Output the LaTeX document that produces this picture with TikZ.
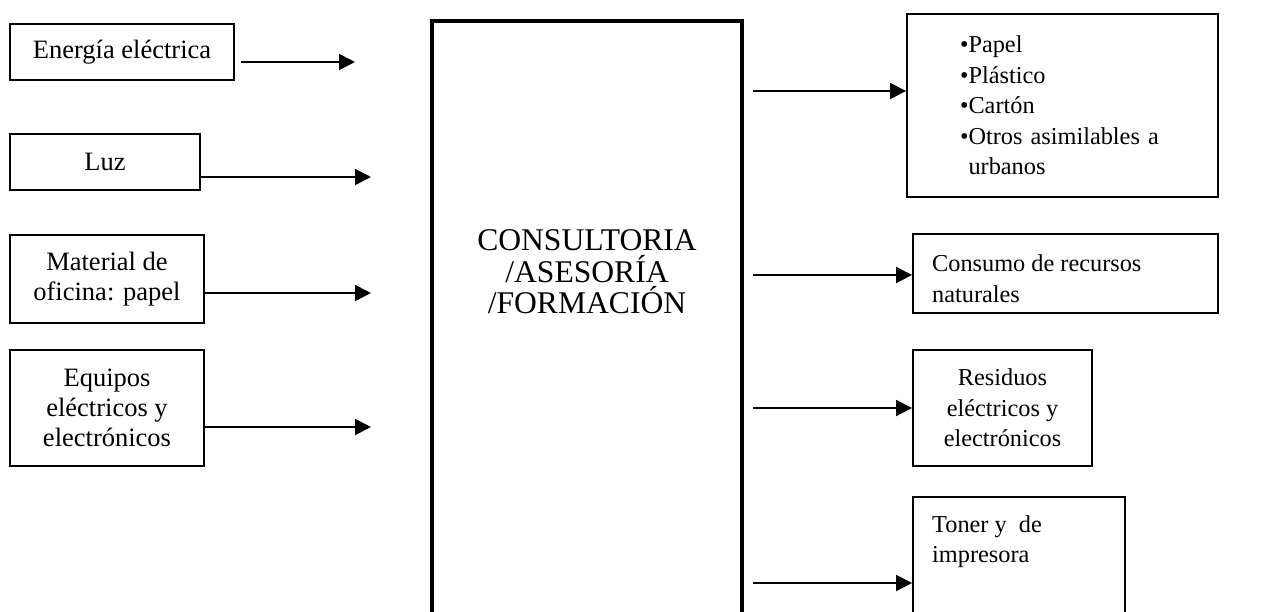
\documentclass[tikz,border=0pt]{standalone}
\usepackage{fontspec}
\setmainfont{Liberation Serif}
\usetikzlibrary{arrows.meta}
\newcommand{\inputsize}{\fontsize{26.5}{30}\selectfont}
\newcommand{\outputsize}{\fontsize{24.3}{30.5}\selectfont}
\newcommand{\processsize}{\fontsize{31.6}{31.5}\selectfont}

\begin{document}
\begin{tikzpicture}[x=1pt,y=1pt,
		inbox/.style={draw=black,line width=1.9pt,align=center,inner sep=0pt,font=\inputsize},
		outbox/.style={draw=black,line width=1.9pt,inner sep=0pt,font=\outputsize},
		outtext/.style={anchor=north west,align=left,inner sep=0pt,font=\outputsize},
		procbox/.style={draw=black,line width=3.6pt,inner sep=0pt},
		flow/.style={-{Triangle[length=16pt,width=16pt]},line width=1.9pt}]
		\clip (0,0) rectangle (1269,-611);
		% entradas
		\node [inbox,minimum width=224,minimum height=56] (energia) at (122,-52) {Energía eléctrica};
		\node [inbox,minimum width=190,minimum height=56] (luz) at (105,-162) {Luz};
		\node [inbox,minimum width=194,minimum height=88] (material) at (107,-279) {Material de\\oficina: papel};
		\node [inbox,minimum width=194,minimum height=116] (equipos) at (107,-408) {Equipos\\eléctricos y\\electrónicos};
		\coordinate (in1) at (355,-62);
		\coordinate (in2) at (371,-177);
		\coordinate (in3) at (371,-293);
		\coordinate (in4) at (371,-427);
		\draw [flow,shorten <=6pt] (in1 -| energia.east) -- (in1);
		\draw [flow] (in2 -| luz.east) -- (in2);
		\draw [flow] (in3 -| material.east) -- (in3);
		\draw [flow] (in4 -| equipos.east) -- (in4);
		% proceso
		\node [procbox,minimum width=310,minimum height=619] (proceso) at (587,-330.5) {};
		\node [align=center,inner sep=0pt,font=\processsize] (procesotxt) at (587,-272) {CONSULTORIA\\/ASESORÍA\\/FORMACIÓN};
		% salidas
		\node [outbox,minimum width=311,minimum height=183,text width=205,align=left] (residuos) at (1062.5,-105.5)
			{\textbullet Papel\\\textbullet Plástico\\\textbullet Cartón\\\textbullet Otros asimilables a\\\phantom{\textbullet}urbanos};
		\node [outbox,minimum width=305,minimum height=79] (consumo) at (1065.5,-273.5) {};
		\node [outtext] (consumotxt) at (932,-254.5) {Consumo de recursos\\naturales};
		\node [outbox,minimum width=179,minimum height=116,align=center] (raee) at (1002.5,-408)
			{Residuos\\eléctricos y\\electrónicos};
		\node [outbox,minimum width=212,minimum height=143] (toner) at (1019,-568.5) {};
		\node [outtext] (tonertxt) at (932,-515) {Toner y\ \ de\\impresora};
		\coordinate (out1) at (753,-91);
		\coordinate (out2) at (753,-275);
		\coordinate (out3) at (753,-408);
		\coordinate (out4) at (753,-583);
		\draw [flow] (out1) -- (out1 -| residuos.west);
		\draw [flow] (out2) -- (out2 -| consumo.west);
		\draw [flow] (out3) -- (out3 -| raee.west);
		\draw [flow] (out4) -- (out4 -| toner.west);
	\end{tikzpicture}
\end{document}
